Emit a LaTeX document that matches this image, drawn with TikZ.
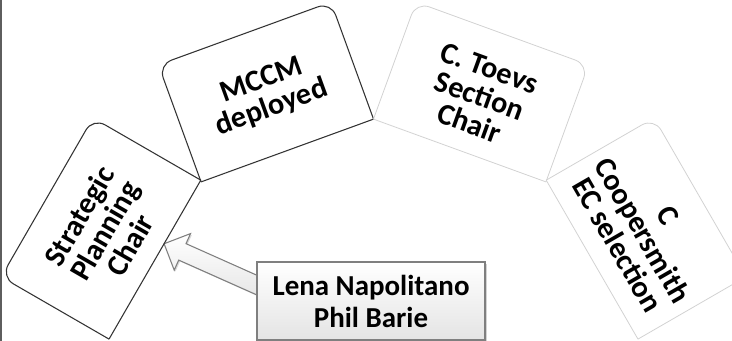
\documentclass[tikz,border=0pt]{standalone}
\usepackage{fontspec}
\setmainfont{Carlito}
\usepackage{xcolor}
\definecolor{msink}{HTML}{000000}
\definecolor{msedge}{HTML}{333333}
\definecolor{msfaint}{HTML}{D2D2D2}
\definecolor{msframe}{HTML}{7F7F7F}
\definecolor{msbar}{HTML}{5E5E5E}
\definecolor{msshade}{HTML}{E4E4E4}
\usepackage{tikz}
\usetikzlibrary{calc,shadows,backgrounds}
\tikzset{
  mscard/.style  ={rectangle, minimum width=137.25pt, minimum height=93pt, inner sep=0pt},
  mstext/.style  ={align=center, text=msink, inner sep=0pt,
                   font=\fontsize{22.7pt}{22pt}\selectfont\bfseries},
  msline/.style  ={draw=msedge, line width=0.8pt},
  msdim/.style   ={draw=msfaint, line width=0.6pt},
  msbox/.style   ={rectangle, draw=msframe, line width=1pt, top color=white,
                   bottom color=msshade, minimum width=171pt, minimum height=58.5pt,
                   inner sep=0pt, align=center, text=msink,
                   drop shadow={shadow xshift=1.2pt, shadow yshift=-1.2pt, opacity=0.35},
                   font=\fontsize{21.7pt}{24pt}\selectfont\bfseries},
  msarrow/.style ={draw=msframe, line width=0.8pt, line join=miter, top color=white,
                   bottom color=msshade,
                   drop shadow={shadow xshift=1pt, shadow yshift=-1pt, opacity=0.3}},
}

\begin{document}
\begin{tikzpicture}[x=0.75pt, y=-0.75pt]
  \clip (0,0) rectangle (732,341);
  \draw[msbar, line width=1.5pt] (1,0) -- (1,341);

  \node[mscard, rotate=60]  (strat) at (101,228.5) {};
  \node[mscard, rotate=20]  (mccm)  at (266,92)    {};
  \node[mscard, rotate=-20] (toevs) at (481,92)    {};
  \node[mscard, rotate=-60] (coop)  at (646,228.5) {};

  \node[mstext, rotate=60]  (strat-t) at ($(strat.center)!3pt!(strat.south)$) {Strategic\\Planning\\Chair};
  \node[mstext, rotate=20]  (mccm-t)  at ($(mccm.center)!2pt!(mccm.south)$)   {MCCM\\deployed};
  \node[mstext, rotate=-20] (toevs-t) at ($(toevs.center)!3pt!(toevs.south)$) {C. Toevs\\Section\\Chair};
  \node[mstext, rotate=-60] (coop-t)  at ($(coop.center)!3pt!(coop.south)$)   {C\\Coopersmith\\EC selection};

  \draw[msline, rounded corners=10.5pt] (strat.south east) -- (strat.north east)
       -- (strat.north west) -- (strat.south west);
  \draw[msline] (strat.south west) -- (strat.south east);
  \draw[msline, rounded corners=10.5pt] (mccm.south east) -- (mccm.north east)
       -- (mccm.north west) -- (mccm.south west);
  \draw[msline] (mccm.south west) -- (mccm.south east);
  \draw[msdim, rounded corners=10.5pt] (toevs.south east) -- (toevs.north east)
       -- (toevs.north west) -- (toevs.south west);
  \draw[msdim] (toevs.south west) -- (toevs.south east);
  \draw[msdim, rounded corners=10.5pt] (coop.south east) -- (coop.north east)
       -- (coop.north west) -- (coop.south west);
  \draw[msdim] (coop.south west) -- (coop.south east);

  \node[msbox] (lena) at (371,301) {Lena Napolitano\\Phil Barie};

  \begin{scope}[on background layer]
    \coordinate (atip)  at ($(strat.south west)!0.6!(strat.south east)$);
    \coordinate (atail) at ($(lena.west)+(25,-5)$);
    \coordinate (ahead) at ($(atip)!15pt!(atail)$);
    \draw[msarrow] ($(atail)!6.75pt!90:(atip)$) -- ($(ahead)!6.75pt!90:(atip)$)
         -- ($(ahead)!15pt!90:(atip)$) -- (atip) -- ($(ahead)!15pt!-90:(atip)$)
         -- ($(ahead)!6.75pt!-90:(atip)$) -- ($(atail)!6.75pt!-90:(atip)$) -- cycle;
  \end{scope}
\end{tikzpicture}
\end{document}
